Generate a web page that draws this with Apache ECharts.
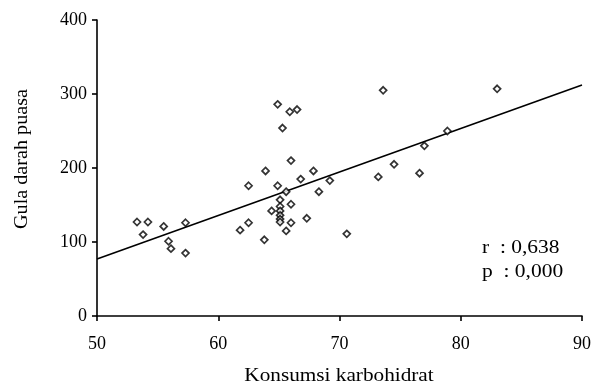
<!DOCTYPE html>
<html>
<head>
<meta charset="utf-8">
<script src="https://cdn.jsdelivr.net/npm/echarts@6/dist/echarts.min.js"></script>
<style>html,body{margin:0;padding:0;background:#fff}#c{width:594px;height:390px}</style>
</head>
<body>
<div id="c"></div>
<script>
var carbX = [53.3,54.2,53.8,55.5,57.3,55.9,56.1,57.3,
  61.8,62.5,62.5,63.8,63.9,
  64.9,65.9,66.5,65.3,
  66.0,67.85,66.8,69.2,64.9,65.6,68.3,
  65.1,65.1,65.1,65.1,65.1,65.1,
  64.4,66.0,66.0,67.3,65.6,70.6,
  73.6,83.0,78.9,77.0,74.5,73.2,76.6];
var glucoseY = [127,127,110,121,126,101,91,85,
  116,126,176,103,196,
  286,276,279,254,
  210,196,185,183,176,168,168,
  157,148,142,136,131,127,
  142,151,126,132,115,111,
  305,307,250,230,205,188,193];
var fitX = [50,90];
var fitY = [77,312];
var xTicks = {min:50,max:90,step:10};
var yTicks = {min:0,max:400,step:100};
var statsText = ['r  : 0,638','p  : 0,000'];

var pts = carbX.map(function(x,i){return [x,glucoseY[i]];});
var fit = fitX.map(function(x,i){return [x,fitY[i]];});
var font = '"Liberation Serif","Times New Roman",serif';
var chart = echarts.init(document.getElementById('c'));
chart.setOption({
  animation:false,
  backgroundColor:'#fff',
  grid:{left:97,right:11,top:20,bottom:74},
  xAxis:{type:'value',min:xTicks.min,max:xTicks.max,interval:xTicks.step,
    axisLine:{show:true,onZero:false,lineStyle:{color:'#000',width:1.6}},
    axisTick:{show:true,length:5,lineStyle:{color:'#000',width:1.6}},
    splitLine:{show:false},
    axisLabel:{color:'#000',fontFamily:font,fontSize:18,margin:19}},
  yAxis:{type:'value',min:yTicks.min,max:yTicks.max,interval:yTicks.step,
    axisLine:{show:true,lineStyle:{color:'#000',width:1.6}},
    axisTick:{show:true,length:5,lineStyle:{color:'#000',width:1.6}},
    splitLine:{show:false},
    axisLabel:{color:'#000',fontFamily:font,fontSize:18,margin:10}},
  graphic:[
    {type:'text',x:339,y:376,scaleX:1.18,style:{text:'Konsumsi karbohidrat',font:'18px '+font,fill:'#000',textAlign:'center',textVerticalAlign:'middle'}},
    {type:'text',x:22,y:159,scaleX:1.12,rotation:Math.PI/2,style:{text:'Gula darah puasa',font:'18px '+font,fill:'#000',textAlign:'center',textVerticalAlign:'middle'}},
    {type:'text',x:482,y:248,scaleX:1.13,style:{text:statsText[0],font:'19px '+font,fill:'#000',textAlign:'left',textVerticalAlign:'middle'}},
    {type:'text',x:482,y:272,scaleX:1.13,style:{text:statsText[1],font:'19px '+font,fill:'#000',textAlign:'left',textVerticalAlign:'middle'}}
  ],
  series:[
    {type:'line',data:fit,symbol:'none',lineStyle:{color:'#000',width:1.6},z:1},
    {type:'scatter',data:pts,symbol:'diamond',symbolSize:7,
      itemStyle:{color:'#fff',borderColor:'#000',borderWidth:1.7},z:2}
  ]
});
</script>
</body>
</html>
